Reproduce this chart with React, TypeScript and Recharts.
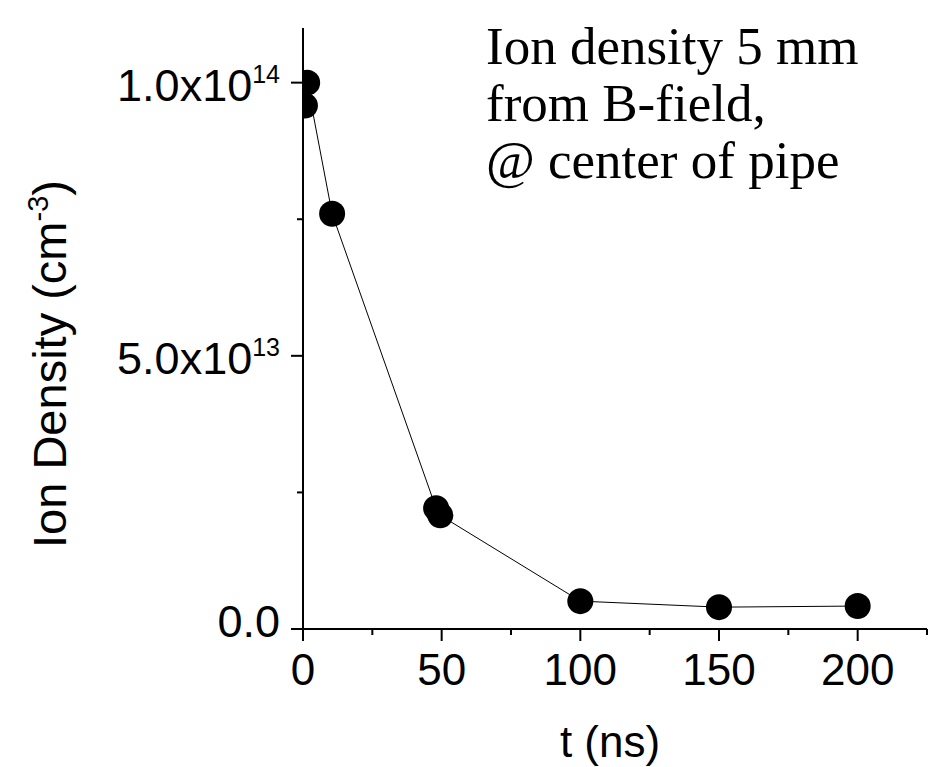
import React from "react";
import { LineChart, Line, XAxis, YAxis, Label } from "recharts";

const times = [0.7, 1.5, 10.5, 48, 49.5, 100, 150, 200];
const density = [9.58e13, 1.0e14, 7.6e13, 2.21e13, 2.08e13, 5.1e12, 4.0e12, 4.2e12];
const xTicks = [0, 25, 50, 75, 100, 125, 150, 175, 200, 225];
const yTicks = [0, 2.5e13, 5e13, 7.5e13, 1e14];
const noteLines = ["Ion density 5 mm", "from B-field,", "@ center of pipe"];

const data = times.map((t, i) => ({ t, n: density[i] }));

const SANS = "'Liberation Sans', Arial, sans-serif";
const SERIF = "'Liberation Serif', 'Times New Roman', serif";

const XTick = (props: any) => {
  const { x, y, payload } = props;
  const major = payload.value % 50 === 0;
  return (
    <g>
      <line x1={x} x2={x} y1={y} y2={y + (major ? 12 : 6)} stroke="#000" strokeWidth={2} />
      {major && (
        <text x={x} y={y + 56} textAnchor="middle" fontSize={44} fontFamily={SANS} fill="#000">
          {payload.value}
        </text>
      )}
    </g>
  );
};

const YTick = (props: any) => {
  const { x, y, payload } = props;
  const v = payload.value;
  const major = v % 5e13 === 0;
  let label: React.ReactNode = null;
  if (major) {
    if (v === 0) {
      label = (
        <text x={x - 23} y={y + 8} textAnchor="end" fontSize={45} fontFamily={SANS} fill="#000">
          0.0
        </text>
      );
    } else {
      const exp = Math.floor(Math.log10(v));
      const mant = (v / Math.pow(10, exp)).toFixed(1);
      label = (
        <text x={x - 23} y={y + 18} textAnchor="end" fontSize={45} fontFamily={SANS} fill="#000">
          <tspan>{mant}x10</tspan>
          <tspan dy={-18} fontSize={25}>{exp}</tspan>
        </text>
      );
    }
  }
  return (
    <g>
      <line x1={x - (major ? 12 : 6)} x2={x} y1={y} y2={y} stroke="#000" strokeWidth={2} />
      {label}
    </g>
  );
};

export default function App() {
  return (
    <div style={{ position: "absolute", left: 0, top: 0, width: 932, height: 767, background: "#fff" }}>
      <LineChart width={932} height={767} data={data} margin={{ top: 28, right: 5, bottom: 0, left: 0 }}>
        <XAxis
          type="number"
          dataKey="t"
          domain={[0, 225]}
          ticks={xTicks}
          interval={0}
          allowDataOverflow
          height={138}
          tickSize={0}
          tickMargin={0}
          tickLine={false}
          tick={<XTick />}
          axisLine={{ stroke: "#000", strokeWidth: 2 }}
        >
          <Label
            content={() => (
              <text x={610} y={757} textAnchor="middle" fontSize={44} fontFamily={SANS} fill="#000">
                t (ns)
              </text>
            )}
          />
        </XAxis>
        <YAxis
          type="number"
          domain={[0, 1.1e14]}
          ticks={yTicks}
          interval={0}
          allowDataOverflow
          width={303}
          tickSize={0}
          tickMargin={0}
          tickLine={false}
          tick={<YTick />}
          axisLine={{ stroke: "#000", strokeWidth: 2 }}
        >
          <Label
            content={() => (
              <text
                transform="translate(66, 364) rotate(-90)"
                textAnchor="middle"
                fontSize={47}
                fontFamily={SANS}
                fill="#000"
              >
                <tspan>Ion Density (cm</tspan>
                <tspan dy={-18} fontSize={29}>-3</tspan>
                <tspan dy={18}>)</tspan>
              </text>
            )}
          />
        </YAxis>
        <Line
          type="linear"
          dataKey="n"
          stroke="#000"
          strokeWidth={1}
          dot={{ r: 13, fill: "#000", stroke: "none" }}
          activeDot={false}
          isAnimationActive={false}
        />
      </LineChart>
      <svg width={932} height={767} style={{ position: "absolute", left: 0, top: 0, pointerEvents: "none" }}>
        {noteLines.map((s, i) => (
          <text key={i} x={486} y={64 + i * 57} fontSize={53} fontFamily={SERIF} fill="#000">
            {s}
          </text>
        ))}
      </svg>
    </div>
  );
}
